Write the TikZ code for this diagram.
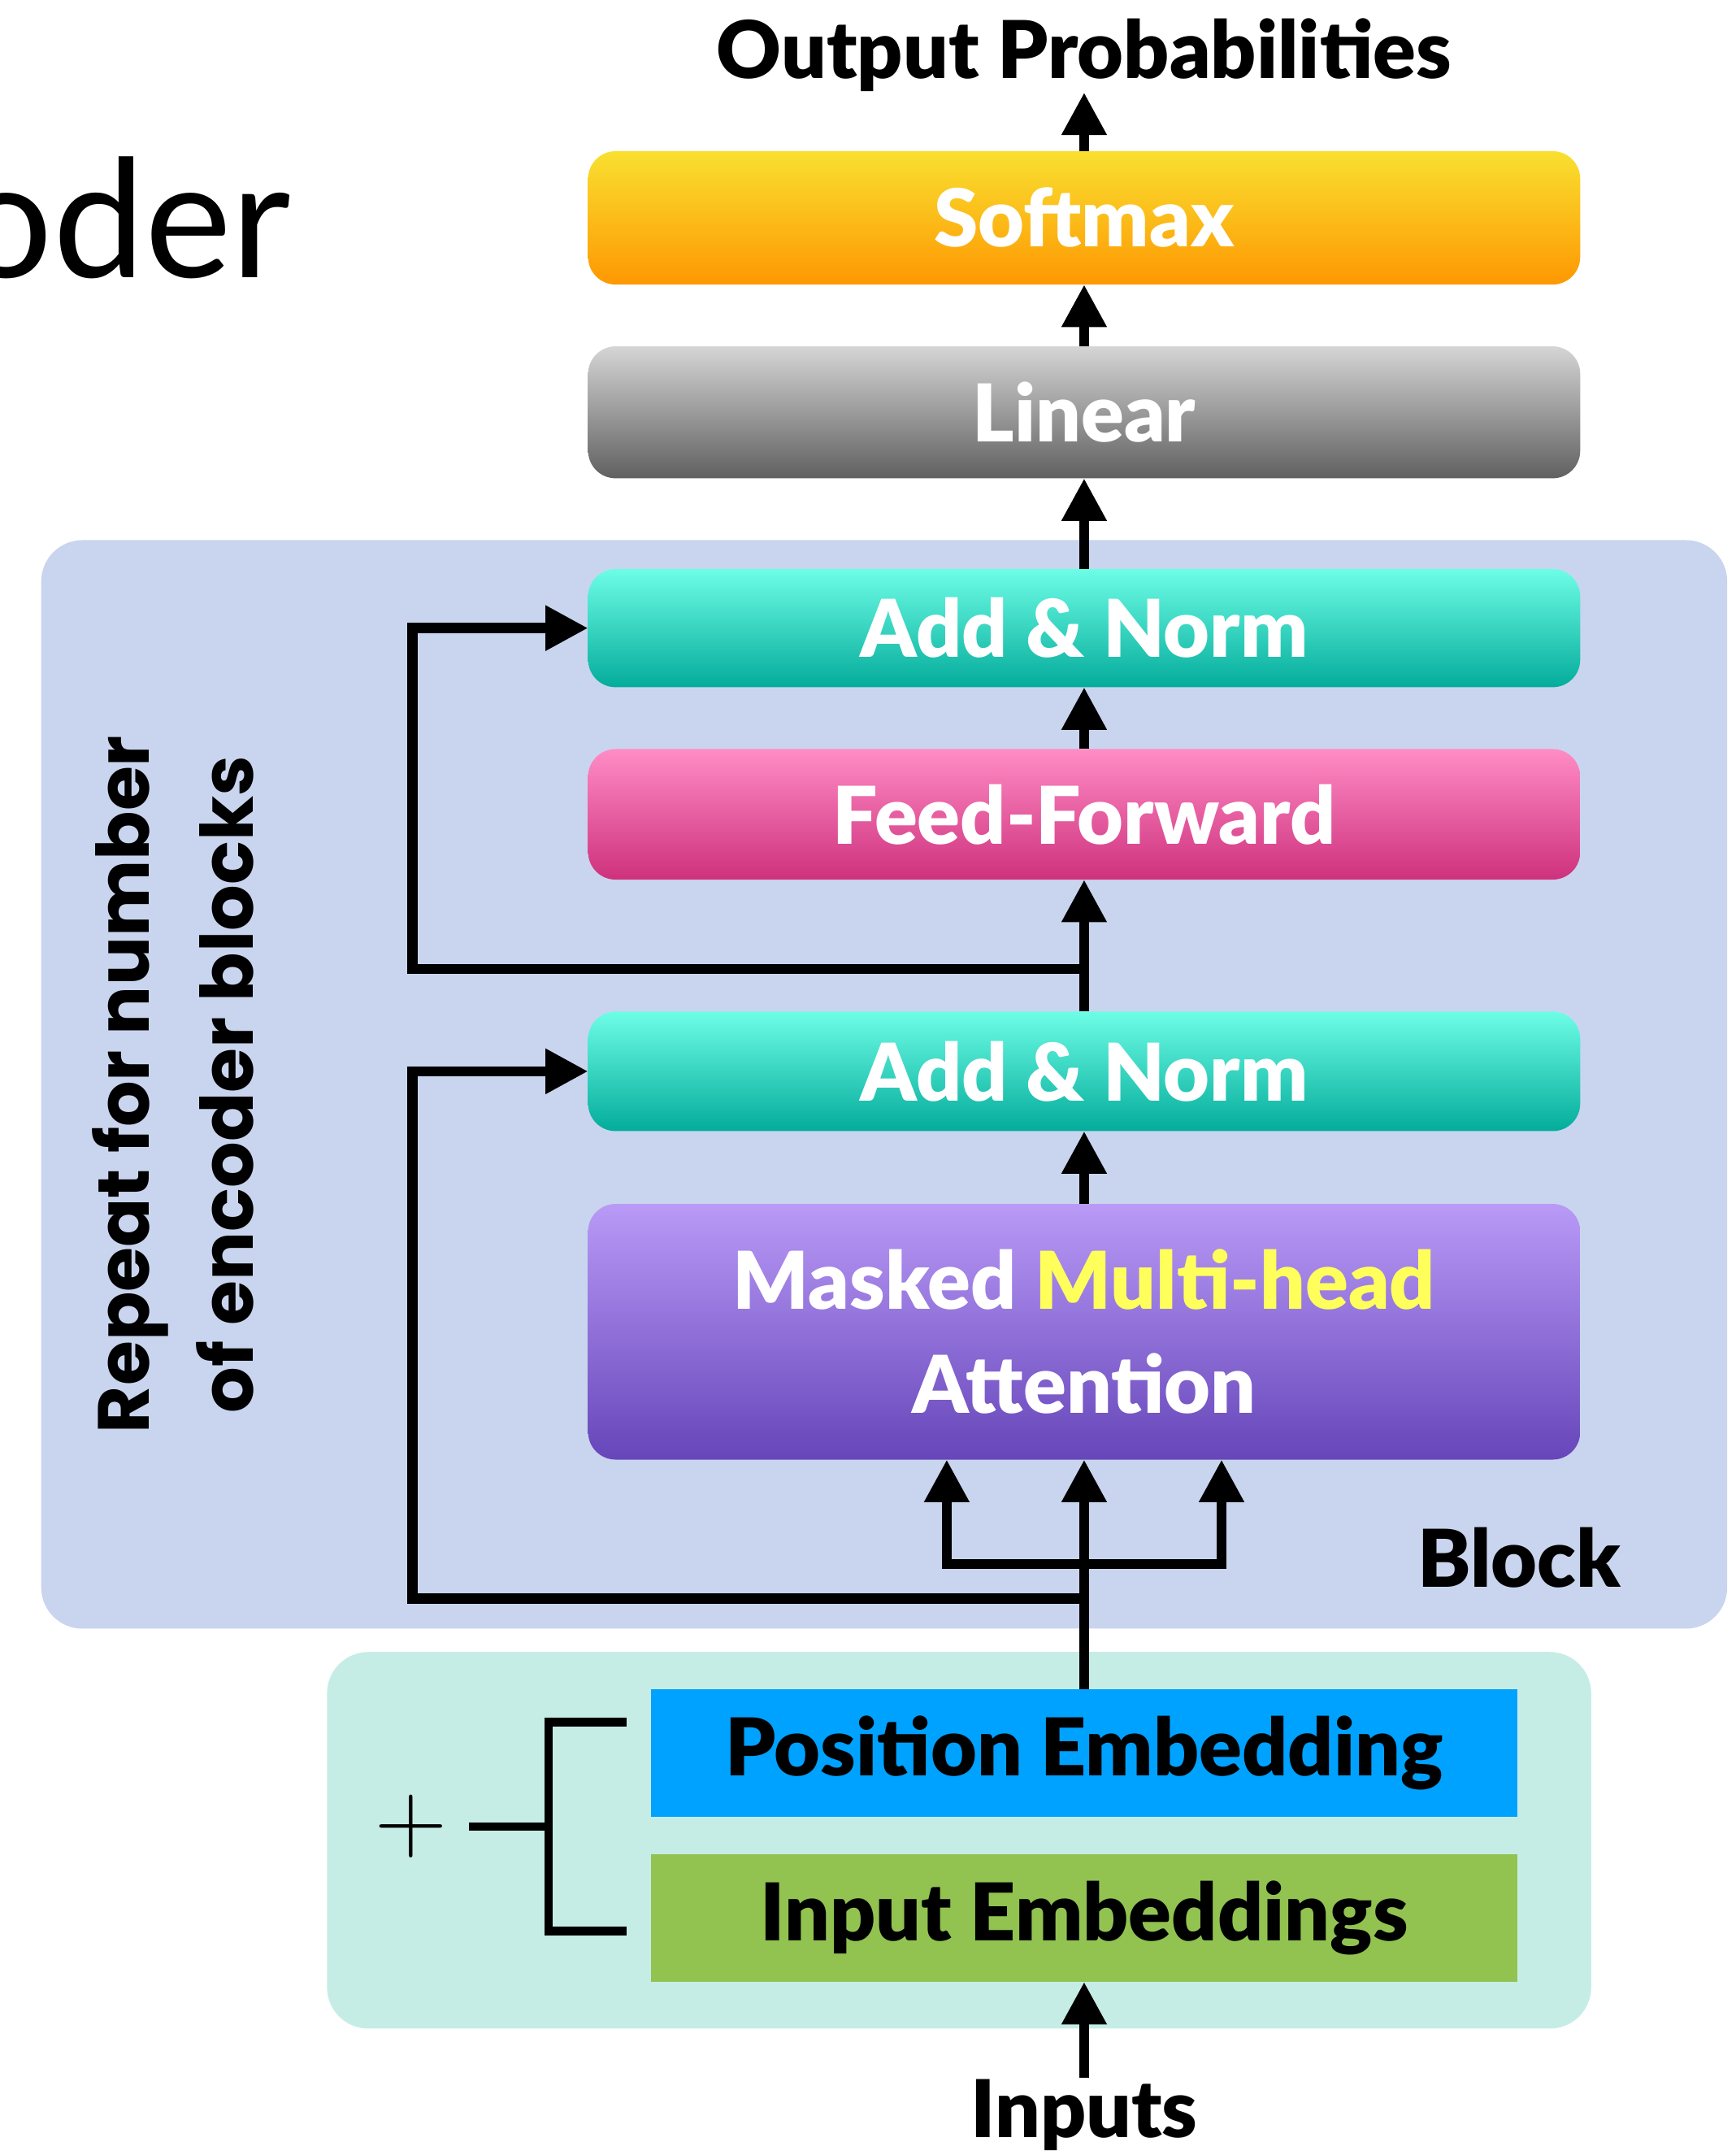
\documentclass[tikz,border=0pt]{standalone}
\usepackage{fontspec}
\usepackage{tikz}
\setmainfont{Lato}[BoldFont={Lato Black}]
\newfontfamily\poppins{Poppins}
\usetikzlibrary{arrows.meta, calc, positioning}

\definecolor{softTop}{HTML}{F9E030}
\definecolor{softBot}{HTML}{FE9802}
\definecolor{linTop}{HTML}{D5D5D5}
\definecolor{linBot}{HTML}{606060}
\definecolor{normTop}{HTML}{6DFDE6}
\definecolor{normBot}{HTML}{04AC9B}
\definecolor{ffTop}{HTML}{FF8CC5}
\definecolor{ffBot}{HTML}{CE317D}
\definecolor{attTop}{HTML}{B99AF7}
\definecolor{attBot}{HTML}{6646B9}
\definecolor{headYellow}{HTML}{FFFF5C}
\definecolor{blockBg}{HTML}{C9D5EE}
\definecolor{embedBg}{HTML}{C6EDE5}
\definecolor{posBlue}{HTML}{00A2FF}
\definecolor{inGreen}{HTML}{92C351}

\newcommand{\labelfont}{\fontsize{16.5pt}{21.5pt}\selectfont\bfseries}
\newcommand{\repeatfont}{\fontsize{15pt}{21.6pt}\selectfont\poppins\bfseries}
\newcommand{\titlefont}{\fontsize{34pt}{40pt}\selectfont}

\newcommand{\lTitle}{oder}
\newcommand{\lOutput}{Output Probabilities}
\newcommand{\lSoftmax}{Softmax}
\newcommand{\lLinear}{Linear}
\newcommand{\lNorm}{Add \& Norm}
\newcommand{\lFeed}{Feed-Forward}
\newcommand{\lAttention}{Masked \textcolor{headYellow}{Multi-head}\\Attention}
\newcommand{\lPosition}{Position Embedding}
\newcommand{\lInput}{Input Embeddings}
\newcommand{\lInputs}{Inputs}
\newcommand{\lBlock}{Block}
\newcommand{\lRepeat}{Repeat for number\\of encoder blocks}

\begin{document}
\begin{tikzpicture} [
        x=0.1mm, y=-0.1mm,
        layer/.style={anchor=north, minimum width=72.2mm, inner sep=0pt, outer sep=0pt, rounded corners=2mm, align=center, text=white, font=\labelfont},
        embed/.style={anchor=north, minimum width=63mm, minimum height=9.3mm, inner sep=0pt, outer sep=0pt, font=\labelfont},
        block bg/.style={anchor=north west, fill=blockBg, rounded corners=3mm, minimum width=122.7mm, minimum height=79.2mm, inner sep=0pt, outer sep=0pt},
        embed bg/.style={anchor=north west, fill=embedBg, rounded corners=3mm, minimum width=92mm, minimum height=27.4mm, inner sep=0pt, outer sep=0pt},
        flow/.style={line width=0.75mm, -{Triangle[length=3.1mm, width=3.1mm]}},
        brace/.style={line width=0.6mm},
        label big/.style={font=\labelfont, inner sep=0pt},
        label repeat/.style={font=\repeatfont, align=center, rotate=90, inner sep=0pt},
        label title/.style={font=\titlefont, inner sep=0pt}
    ]
    \useasboundingbox (0,0) rectangle (1263,1568);

    % backgrounds
    \path (30,393) node[block bg] (block) {};
    \path (238,1202) node[embed bg] (embed) {};

    % main column
    \path (789,110) node[layer, minimum height=9.7mm, top color=softTop, bottom color=softBot] (softmax) {\lSoftmax};
    \path (softmax.south) ++(0,45) node[layer, minimum height=9.6mm, top color=linTop, bottom color=linBot] (linear) {\lLinear};
    \path (linear.south) ++(0,66) node[layer, minimum height=8.6mm, top color=normTop, bottom color=normBot] (norm top) {\lNorm};
    \path (norm top.south) ++(0,45) node[layer, minimum height=9.5mm, top color=ffTop, bottom color=ffBot] (ff) {\lFeed};
    \path (ff.south) ++(0,96) node[layer, minimum height=8.7mm, top color=normTop, bottom color=normBot] (norm mid) {\lNorm};
    \path (norm mid.south) ++(0,53) node[layer, minimum height=18.6mm, top color=attTop, bottom color=attBot] (attn) {\lAttention};

    \path (789,1229) node[embed, fill=posBlue] (pos) {\lPosition};
    \path (pos.south) ++(0,27) node[embed, fill=inGreen] (input) {\lInput};

    % labels
    \path (softmax.north) ++(0,-53) node[label big, anchor=base] (out) {\lOutput};
    \path (input.south) ++(0,113) node[label big, anchor=base] (inputs) {\lInputs};
    \path (block.south east) ++(-77,-30) node[label big, anchor=base east] (block name) {\lBlock};
    \path (block.west) ++(96,0) node[label repeat] (repeat) {\lRepeat};
    \path (-30,202) node[label title, anchor=base west] (title) {\lTitle};

    % arrows
    \draw[flow] (softmax.north) -- (out.south);
    \draw[flow] (linear.north) -- (softmax.south);
    \draw[flow] (norm top.north) -- (linear.south);
    \draw[flow] (ff.north) -- (norm top.south);
    \draw[flow] (norm mid.north) -- (ff.south);
    \draw[flow] (attn.north) -- (norm mid.south);
    \draw[flow] (pos.north) -- (attn.south);
    \draw[flow] (inputs.north) -- (input.south);

    \path (norm mid.north) ++(0,-31) coordinate (split top);
    \path (pos.north) ++(0,-66) coordinate (split low);
    \path (attn.south) ++(0,76) coordinate (fork);
    \draw[flow] (split top) -- ++(-489,0) |- (norm top.west);
    \draw[flow] (split low) -- ++(-489,0) |- (norm mid.west);
    \draw[flow] (fork) -| ([xshift=-10mm]attn.south);
    \draw[flow] (fork) -| ([xshift=10mm]attn.south);

    % sum of the embeddings
    \path (pos.west) ++(-18,-22.5) coordinate (brace top);
    \path (input.west) ++(-18,9.5) coordinate (brace bot);
    \draw[brace] (brace top) -- ++(-57,0) coordinate (brace corner) |- (brace bot);
    \draw[brace] ($ (brace corner)!.5!(brace corner|-brace bot) $) -- ++(-58,0) coordinate (brace end);
    \path (brace end) ++(-42,0) node[font=\fontsize{20pt}{20pt}\selectfont, inner sep=0pt] (plus) {$+$};

\end{tikzpicture}
\end{document}
